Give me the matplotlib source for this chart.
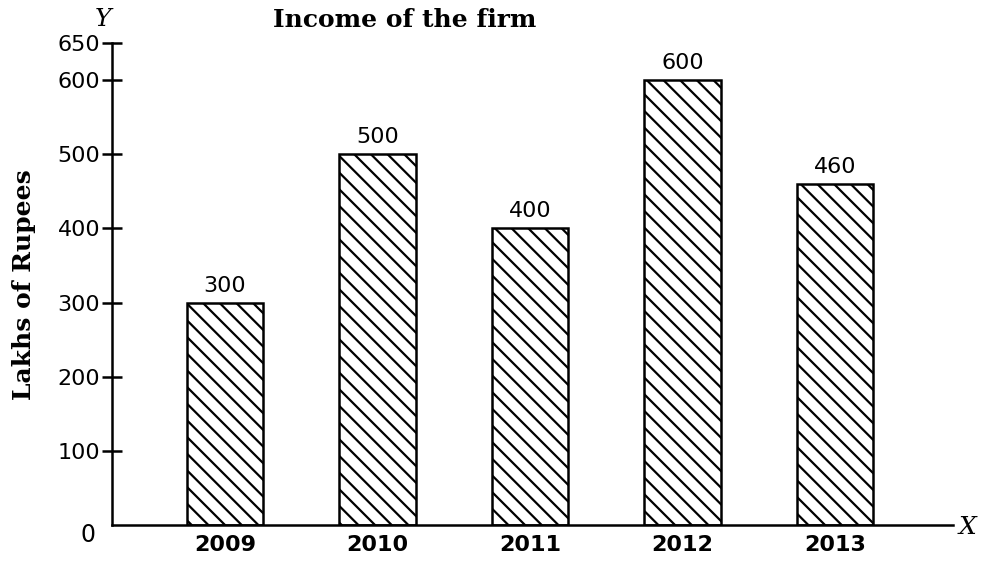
import matplotlib
matplotlib.use('Agg')
import matplotlib.pyplot as plt

years = ['2009', '2010', '2011', '2012', '2013']
income = [300, 500, 400, 600, 460]
yticks = [100, 200, 300, 400, 500, 600, 650]

plt.rcParams['hatch.linewidth'] = 1.6
plt.rcParams['font.family'] = 'DejaVu Sans'

fig = plt.figure(figsize=(9.82, 5.62), dpi=100)
ax = fig.add_axes([112 / 982, 1 - 525 / 562, (953 - 112) / 982, (525 - 43) / 562])

pos = list(range(len(years)))
bars = ax.bar(pos, income, width=0.5, color='white', edgecolor='black',
              linewidth=1.8, hatch='\\\\')

# value labels above bars
for x, v in zip(pos, income):
    ax.annotate(str(v), (x, v), xytext=(0, 5), textcoords='offset points',
                ha='center', va='bottom', fontsize=16)

ax.set_xlim(-0.741, 4.774)
ax.set_ylim(0, 650)

for s in ['top', 'right']:
    ax.spines[s].set_visible(False)
ax.spines['left'].set_linewidth(1.8)
ax.spines['bottom'].set_linewidth(1.8)

ax.set_yticks(yticks)
ax.set_yticklabels([str(t) for t in yticks], fontsize=16)
ax.tick_params(axis='y', direction='inout', length=15, width=1.8, pad=1)
ax.set_xticks(pos)
ax.set_xticklabels(years, fontsize=16, fontweight='bold')
ax.tick_params(axis='x', length=0, pad=7)

fig.text(88 / 982, 1 - 535 / 562, '0', ha='center', va='center', fontsize=17)
fig.text(103 / 982, 1 - 20 / 562, 'Y', ha='center', va='center', fontsize=18,
         style='italic', family='DejaVu Serif')
fig.text(967 / 982, 1 - 527 / 562, 'X', ha='center', va='center', fontsize=18,
         style='italic', family='DejaVu Serif')
fig.text(405 / 982, 1 - 20 / 562, 'Income of the firm', ha='center', va='center',
         fontsize=18, fontweight='bold', family='DejaVu Serif')
fig.text(24 / 982, 1 - 285 / 562, 'Lakhs of Rupees', ha='center', va='center',
         rotation=90, fontsize=18, fontweight='bold', family='DejaVu Serif')

fig.savefig('out.png', dpi=100)
